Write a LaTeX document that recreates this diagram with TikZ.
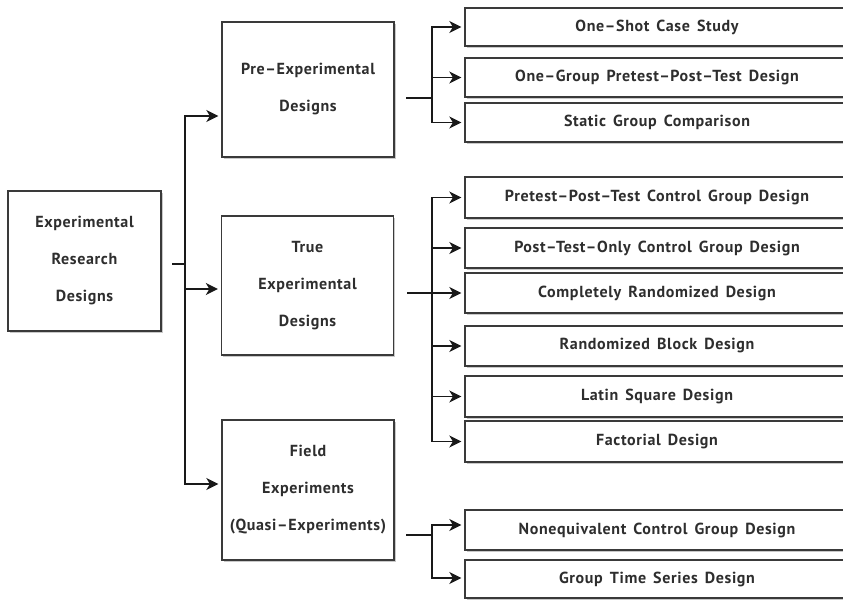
\documentclass[tikz,border=0pt]{standalone}
\usepackage{fontspec}
\setmainfont{PT Sans}[LetterSpace=4,WordSpace={1.5,1,1}]
\usetikzlibrary{arrows.meta,shadows}
\definecolor{ink}{HTML}{2E2E2E}
\definecolor{edge}{HTML}{3A3A3A}
\begin{document}
\begin{tikzpicture}[x=1pt,y=-1pt,
  base/.style={draw=edge, line width=1.3pt, fill=white, inner sep=0pt, align=center, text=ink,
    font=\bfseries\fontsize{16}{37}\selectfont,
    drop shadow={shadow xshift=1.6pt, shadow yshift=-1.8pt, fill=black!35, opacity=0.6}},
  bigbox/.style={base, minimum width=172pt},
  leaf/.style={base, minimum width=384pt},
  link/.style={draw=black!90, line width=1.6pt},
  arr/.style={link, -{Stealth[length=12pt,width=12pt,inset=3.5pt]}, shorten >=3pt}
]
\clip (0,0) rectangle (843,601);
\fill[white] (0,0) rectangle (843,601);

% root and second-level categories
\node[base, minimum width=153pt, minimum height=140pt] (root) at (84.5,261)
  {Experimental\\Research\\Designs};
\node[bigbox, minimum height=135pt] (pre) at (308,89.5) {Pre–Experimental\\Designs};
\node[bigbox, minimum height=139pt] (true) at (307.5,285.5) {True\\Experimental\\Designs};
\node[bigbox, minimum height=140pt] (field) at (308,490) {Field\\Experiments\\(Quasi–Experiments)};

% individual designs
\node[leaf, minimum height=38pt] (os) at (657,27)    {One–Shot Case Study};
\node[leaf, minimum height=39pt] (og) at (657,77.5)  {One–Group Pretest–Post–Test Design};
\node[leaf, minimum height=39pt] (sg) at (657,122.5) {Static Group Comparison};
\node[leaf, minimum height=41pt] (pp) at (657,197.5) {Pretest–Post–Test Control Group Design};
\node[leaf, minimum height=40pt] (po) at (657,248)   {Post–Test–Only Control Group Design};
\node[leaf, minimum height=40pt] (cr) at (657,293)   {Completely Randomized Design};
\node[leaf, minimum height=40pt] (rb) at (657,346)   {Randomized Block Design};
\node[leaf, minimum height=41pt] (ls) at (657,396.5) {Latin Square Design};
\node[leaf, minimum height=41pt] (fd) at (657,441.5) {Factorial Design};
\node[leaf, minimum height=40pt] (ne) at (657,530)   {Nonequivalent Control Group Design};
\node[leaf, minimum height=38pt] (gt) at (657,579)   {Group Time Series Design};

% root to categories
\coordinate (rootout) at (172,264);
\coordinate (rootjoin) at (185,264);
\draw[link] (rootout) -- (rootjoin);
\draw[arr] (rootjoin) |- ([yshift=-26.5pt]pre.west);
\draw[arr] (rootjoin) |- ([yshift=-3.5pt]true.west);
\draw[arr] (rootjoin) |- ([yshift=6pt]field.west);

% pre-experimental designs
\coordinate (preout) at (406,98);
\coordinate (prejoin) at (432,98);
\draw[link] (preout) -- (prejoin);
\foreach \n in {os,og,sg} \draw[arr] (prejoin) |- (\n.west);

% true experimental designs
\coordinate (trueout) at (407,293);
\coordinate (truejoin) at (432,293);
\draw[link] (trueout) -- (truejoin);
\foreach \n in {pp,po,cr,rb,ls,fd} \draw[arr] (truejoin) |- (\n.west);

% field experiments
\coordinate (fieldout) at (406,535);
\coordinate (fieldjoin) at (432,535);
\draw[link] (fieldout) -- (fieldjoin);
\draw[arr] (fieldjoin) |- ([yshift=5pt]ne.west);
\draw[arr] (fieldjoin) |- ([yshift=1pt]gt.west);
\end{tikzpicture}
\end{document}
